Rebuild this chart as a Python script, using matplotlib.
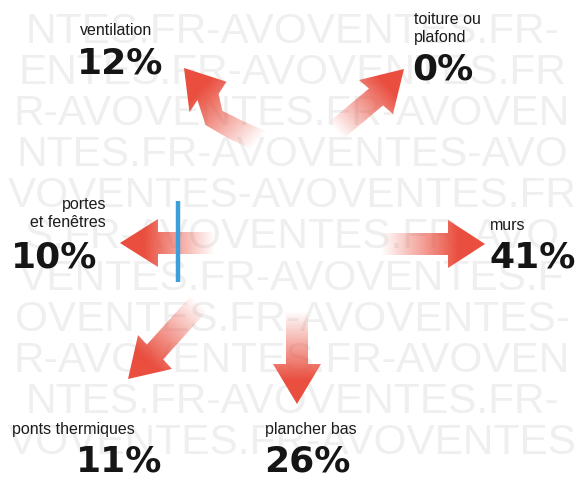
import numpy as np
import matplotlib
matplotlib.use("Agg")
import matplotlib.pyplot as plt
from matplotlib.patches import Polygon

# Heat loss shares of a house (deperditions thermiques)
labels = ['ventilation', 'toiture ou\nplafond', 'murs',
          'plancher bas', 'ponts thermiques', 'portes\net fenêtres']
percents = [12, 0, 41, 26, 11, 10]

# background watermark rows
watermark = [
    "NTES.FR-AVOVENTES.FR-",
    "ENTES.FR-AVOVENTES.FR",
    "R-AVOVENTES.FR-AVOVEN",
    "NTES.FR-AVOVENTES-AVO",
    "VOVENTES-AVOVENTES.FR",
    "S.FR-AVOVENTES.FR-AVO",
    "VENTES.FR-AVOVENTES.F",
    "OVENTES.FR-AVOVENTES-",
    "R-AVOVENTES.FR-AVOVEN",
    "NTES.FR-AVOVENTES.FR-",
    "VOVENTES.FR-AVOVENTES",
]

W, H = 584, 480
fig = plt.figure(figsize=(W / 100, H / 100), dpi=100)
ax = fig.add_axes([0, 0, 1, 1])
ax.set_xlim(0, W)
ax.set_ylim(H, 0)
ax.axis('off')

for i, row in enumerate(watermark):
    ax.text(W / 2, 43 + i * 41.1, row, fontsize=30.5, family='Liberation Sans',
            color='#efefef', va='baseline', ha='center', zorder=0)

# arrow layout: centre line (tail ... head base), tip
arrows = [
    ([(263, 142), (236, 130), (214, 118), (208, 97)], (184, 68)),   # ventilation
    ([(333, 133), (376, 97)], (404, 69)),                            # toiture
    ([(378, 244), (448, 244)], (485, 244)),                          # murs
    ([(297, 308), (297, 364)], (297, 404)),                          # plancher bas
    ([(202, 300), (155, 352)], (128, 379)),                          # ponts thermiques
    ([(218, 243), (158, 243)], (120, 243)),                          # portes et fenetres
]

red = np.array([233, 78, 62]) / 255.0
yy, xx = np.mgrid[0:H, 0:W] + 0.5


def arrow_polygon(line, tip, shaft=22, head=48):
    pts = np.array(line, float)
    n = len(pts)
    left, right = [], []
    for k in range(n):
        if k == 0:
            d = pts[1] - pts[0]
        elif k == n - 1:
            d = pts[-1] - pts[-2]
        else:
            d = pts[k + 1] - pts[k - 1]
        d = d / np.hypot(*d)
        nrm = np.array([-d[1], d[0]])
        left.append(pts[k] + nrm * shaft / 2)
        right.append(pts[k] - nrm * shaft / 2)
    d = np.array(tip) - pts[-1]
    d = d / np.hypot(*d)
    nrm = np.array([-d[1], d[0]])
    headpts = [pts[-1] + nrm * head / 2, np.array(tip, float), pts[-1] - nrm * head / 2]
    return np.array(left + headpts + right[::-1])


for line, tip in arrows:
    poly = arrow_polygon(line, tip)
    tail = np.array(line[0], float)
    v = np.array(tip, float) - tail
    t = ((xx - tail[0]) * v[0] + (yy - tail[1]) * v[1]) / (v @ v)
    img = np.zeros((H, W, 4))
    img[..., :3] = red
    img[..., 3] = np.clip(1.4 * t - 0.05, 0, 1)
    im = ax.imshow(img, extent=(0, W, H, 0), zorder=2, interpolation='bilinear')
    patch = Polygon(poly, closed=True, transform=ax.transData)
    im.set_clip_path(patch)

ax.set_xlim(0, W)
ax.set_ylim(H, 0)

# blue window mark
ax.plot([178, 178], [201, 282], color='#3d9fd9', lw=3.2, zorder=3, solid_capstyle='butt')

lab_kw = dict(family='Liberation Sans', fontsize=11.5, color='#1c1c1c', va='baseline', zorder=4)
pct_kw = dict(family='DejaVu Sans', fontsize=26, fontweight='bold', color='#151515',
              va='baseline', zorder=4)

# label placement: (label x, label baseline, percent x, percent baseline, label ha)
placement = [
    (80, 35, 77, 73, 'left'),
    (414, 24, 412, 80, 'left'),
    (490, 230, 489, 268, 'left'),
    (265, 434, 264, 472, 'left'),
    (12, 434, 76, 472, 'left'),
    (106, 209, 11, 267, 'right'),
]

for (x, ly, px, py, ha), lab, p in zip(placement, labels, percents):
    for j, s in enumerate(lab.split('\n')):
        ax.text(x, ly + j * 18, s, ha=ha, **lab_kw)
    ax.text(px, py, f'{p}%', ha='left', **pct_kw)

fig.savefig('out.png', dpi=100, facecolor='white')
